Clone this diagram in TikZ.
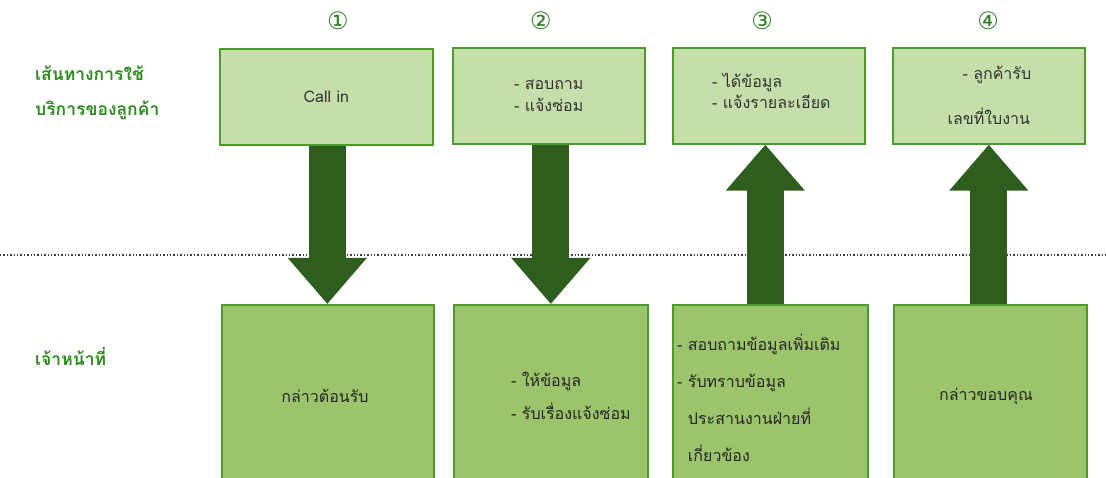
\documentclass[tikz,border=0pt]{standalone}
\usepackage{fontspec}
\newfontfamily\thai[Script=Thai]{Loma}
\newfontfamily\dejavu{DejaVu Sans}
\usetikzlibrary{arrows.meta}
\definecolor{topfill}{HTML}{C6DFAA}
\definecolor{botfill}{HTML}{9CC46A}
\definecolor{boxline}{HTML}{4A9A2C}
\definecolor{arrowc}{HTML}{2D5E1E}
\definecolor{labelc}{HTML}{2E8B1F}
\definecolor{numc}{HTML}{2E7D22}
\begin{document}
\begin{tikzpicture}[x=1pt,y=-1pt,
  topbox/.style={draw=boxline, line width=1.6pt, fill=topfill, anchor=north west, inner sep=0pt,
    align=left, font=\thai\fontsize{16}{22}\selectfont, text=black!80},
  toptext/.style={align=left, font=\thai\fontsize{16}{21}\selectfont, text=black!80, inner sep=0pt},
  botbox/.style={draw=boxline, line width=1.6pt, fill=botfill, anchor=north west, inner sep=0pt},
  bottext/.style={align=left, font=\thai\fontsize{16}{37}\selectfont, text=black!85, inner sep=0pt},
  lanelabel/.style={anchor=west, align=left, font=\thai\bfseries\fontsize{17.5}{35}\selectfont, text=labelc, inner sep=0pt},
  stepnum/.style={font=\dejavu\fontsize{24}{24}\selectfont, text=numc, inner sep=0pt},
  bigarrow/.style={draw=arrowc, line width=37pt, line cap=butt,
    -{Triangle[width=76pt,length=46pt]}, arrowc},
  divider/.style={draw=black!75, line width=1.4pt, dash pattern=on 1.4pt off 2pt}
]
\useasboundingbox (0,0) rectangle (1106,478);
\fill[white] (0,0) rectangle (1106,478);

% lane labels
\node[lanelabel] (lcust) at (35,93) {เส้นทางการใช้\\บริการของลูกค้า};
\node[lanelabel] (lstaff) at (35,357) {เจ้าหน้าที่};

% step numbers
\node[stepnum] (n1) at (338,21) {①};
\node[stepnum] (n2) at (541,21) {②};
\node[stepnum] (n3) at (762,21) {③};
\node[stepnum] (n4) at (988,21) {④};

% divider
\coordinate (dl) at (0,255);
\coordinate (dr) at (1106,255);
\draw[divider] (dl) -- (dr);

% top boxes
\node[topbox, minimum width=213pt, minimum height=96pt] (t1) at (219,48) {Call in};
\node[topbox, minimum width=192pt, minimum height=96pt] (t2) at (452,47) {- สอบถาม\\- แจ้งซ่อม};
\node[topbox, minimum width=192pt, minimum height=96pt] (t3) at (672,47) {};
\node[toptext, anchor=west] (t3x) at (712,91) {- ได้ข้อมูล\\- แจ้งรายละเอียด};
\node[topbox, minimum width=192pt, minimum height=96pt, align=center, font=\thai\fontsize{16}{45}\selectfont] (t4) at (892,47) {\ \ \ - ลูกค้ารับ\\เลขที่ใบงาน};

% bottom boxes
\node[botbox, minimum width=212pt, minimum height=190pt] (b1) at (221,304) {};
\node[botbox, minimum width=194pt, minimum height=190pt] (b2) at (453,304) {};
\node[botbox, minimum width=195pt, minimum height=190pt] (b3) at (672,304) {};
\node[botbox, minimum width=193pt, minimum height=190pt] (b4) at (893,304) {};

\node[bottext] (bt1) at (325,396) {กล่าวต้อนรับ};
\node[bottext, anchor=west, font=\thai\fontsize{16}{33}\selectfont] (bt2) at (511,396) {- ให้ข้อมูล\\- รับเรื่องแจ้งซ่อม};
\node[bottext, anchor=west] (bt3) at (677,398) {- สอบถามข้อมูลเพิ่มเติม\\- รับทราบข้อมูล\\\ \ ประสานงานฝ่ายที่\\\ \ เกี่ยวข้อง};
\node[bottext] (bt4) at (986,396) {กล่าวขอบคุณ};

% arrows
\draw[bigarrow] ([xshift=1pt]t1.south) -- ([xshift=1pt]t1.south |- b1.north);
\draw[bigarrow] ([xshift=2pt]t2.south) -- ([xshift=2pt]t2.south |- b2.north);
\draw[bigarrow] ([xshift=-5pt]b3.north) -- ([xshift=-5pt]b3.north |- t3.south);
\draw[bigarrow] ([xshift=-1.5pt]b4.north) -- ([xshift=-1.5pt]b4.north |- t4.south);
\end{tikzpicture}
\end{document}
